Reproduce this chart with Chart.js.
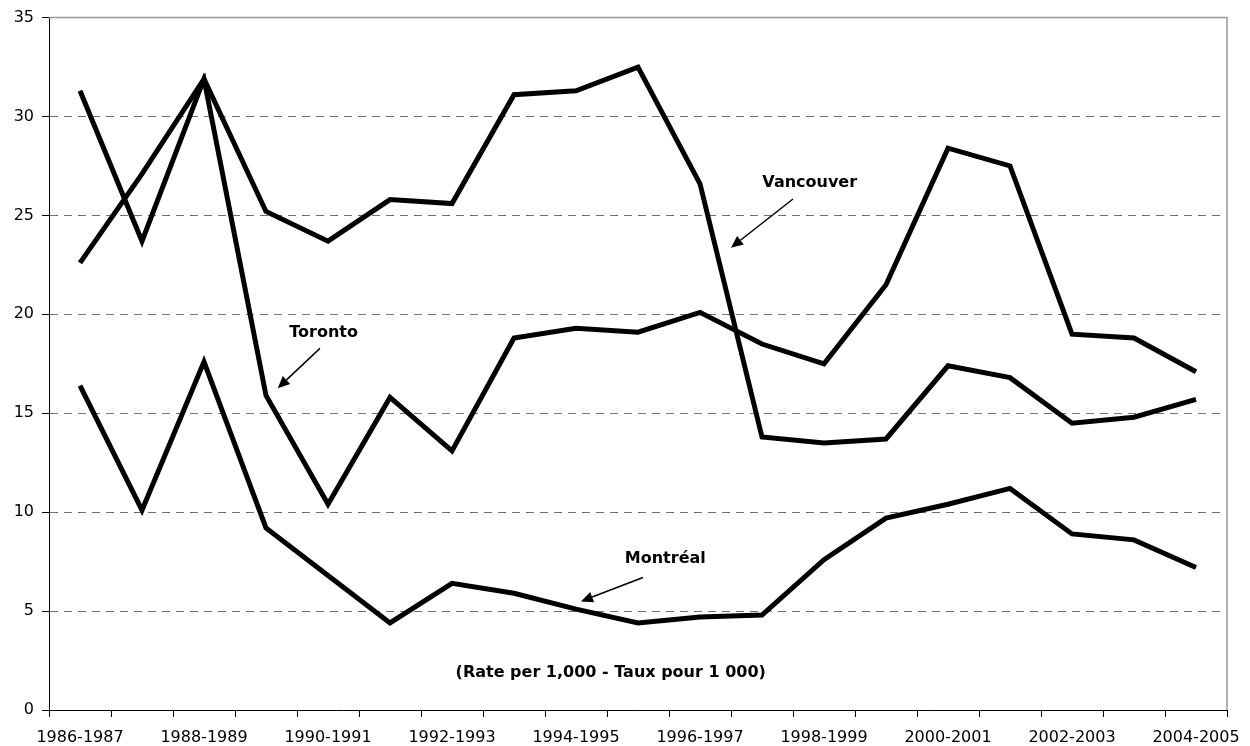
<!DOCTYPE html>
<html>
<head>
<meta charset="utf-8">
<script src="https://cdn.jsdelivr.net/npm/chart.js@4"></script>
<style>
    html, body { margin: 0; padding: 0; background: #fff; }
    #wrap { width: 1250px; height: 746px; }
</style>
</head>
<body>
<div id="wrap"><canvas id="rateChart"></canvas></div>
<script>
// years shown on the x axis (every other one gets a label)
const years = ['1986-1987', '1987-1988', '1988-1989', '1989-1990', '1990-1991', '1991-1992',
    '1992-1993', '1993-1994', '1994-1995', '1995-1996', '1996-1997', '1997-1998', '1998-1999',
    '1999-2000', '2000-2001', '2001-2002', '2002-2003', '2003-2004', '2004-2005'];

const vancouver = [31.3, 23.7, 31.9, 25.2, 23.7, 25.8, 25.6, 31.1, 31.3, 32.5, 26.6, 13.8, 13.5, 13.7, 17.4, 16.8, 14.5, 14.8, 15.7];
const toronto   = [22.6, 27.1, 31.9, 15.9, 10.4, 15.8, 13.1, 18.8, 19.3, 19.1, 20.1, 18.5, 17.5, 21.5, 28.4, 27.5, 19.0, 18.8, 17.1];
const montreal  = [16.4, 10.1, 17.6, 9.2, 6.8, 4.4, 6.4, 5.9, 5.1, 4.4, 4.7, 4.8, 7.6, 9.7, 10.4, 11.2, 8.9, 8.6, 7.2];

const yTicks = [0, 5, 10, 15, 20, 25, 30, 35];

// labels + arrows, placed in data space (category index, value)
const callouts = [
    { text: 'Vancouver', at: [11.77, 26.64], from: [11.5, 25.83], to: [10.5, 23.37] },
    { text: 'Toronto', at: [3.93, 19.09], from: [3.87, 18.28], to: [3.19, 16.27] },
    { text: 'Montréal', at: [9.44, 7.65], from: [9.08, 6.70], to: [8.08, 5.49] }
];
const caption = { text: '(Rate per 1,000 - Taux pour 1 000)', at: [8.56, 1.86] };

Chart.defaults.font.family = "'DejaVu Sans', sans-serif";
Chart.defaults.font.size = 16;
Chart.defaults.color = '#000';

function drawArrow(ctx, x1, y1, x2, y2) {
    const ang = Math.atan2(y2 - y1, x2 - x1);
    const len = 12, half = 5.5;
    const bx = x2 - len * Math.cos(ang), by = y2 - len * Math.sin(ang);
    ctx.beginPath();
    ctx.moveTo(x1, y1);
    ctx.lineTo(bx, by);
    ctx.lineWidth = 1.5;
    ctx.strokeStyle = '#000';
    ctx.stroke();
    ctx.beginPath();
    ctx.moveTo(x2, y2);
    ctx.lineTo(bx + half * Math.sin(ang), by - half * Math.cos(ang));
    ctx.lineTo(bx - half * Math.sin(ang), by + half * Math.cos(ang));
    ctx.closePath();
    ctx.fillStyle = '#000';
    ctx.fill();
}

const framePlugin = {
    id: 'frame',
    beforeDatasetsDraw(chart) {
        const { ctx, chartArea: a } = chart;
        ctx.save();
        ctx.strokeStyle = '#999';
        ctx.lineWidth = 1.5;
        ctx.beginPath();
        ctx.moveTo(a.left, a.top);
        ctx.lineTo(a.right, a.top);
        ctx.lineTo(a.right, a.bottom);
        ctx.stroke();
        ctx.restore();
    },
    afterDatasetsDraw(chart) {
        const { ctx, scales: { x, y } } = chart;
        const px = p => [x.getPixelForValue(p[0]), y.getPixelForValue(p[1])];
        ctx.save();
        ctx.font = "bold 16px 'DejaVu Sans', sans-serif";
        ctx.textAlign = 'center';
        ctx.textBaseline = 'middle';
        ctx.fillStyle = '#000';
        callouts.forEach(c => {
            const [tx, ty] = px(c.at);
            ctx.fillText(c.text, tx, ty);
            const [x1, y1] = px(c.from);
            const [x2, y2] = px(c.to);
            drawArrow(ctx, x1, y1, x2, y2);
        });
        const [cx, cy] = px(caption.at);
        ctx.fillText(caption.text, cx, cy);
        ctx.restore();
    }
};

const lineStyle = { borderColor: '#000', borderWidth: 5, pointRadius: 0, tension: 0, fill: false };

new Chart(document.getElementById('rateChart').getContext('2d'), {
    type: 'line',
    data: {
        labels: years,
        datasets: [
            { label: 'Vancouver', data: vancouver, ...lineStyle },
            { label: 'Toronto', data: toronto, ...lineStyle },
            { label: 'Montréal', data: montreal, ...lineStyle }
        ]
    },
    options: {
        responsive: true,
        maintainAspectRatio: false,
        animation: false,
        layout: { padding: { top: 15, right: 23, left: 0, bottom: 0 } },
        plugins: {
            legend: { display: false },
            tooltip: { enabled: false }
        },
        scales: {
            x: {
                type: 'category',
                offset: true,
                grid: { offset: true, drawOnChartArea: false, drawTicks: true, tickLength: 7, tickColor: '#000' },
                border: { color: '#000', width: 1 },
                ticks: {
                    autoSkip: false,
                    maxRotation: 0,
                    minRotation: 0,
                    padding: 11,
                    callback: (v, i) => (i % 2 === 0 ? years[i] : '')
                },
                afterFit: s => { s.height = 36; s.paddingLeft = 0; s.paddingRight = 0; }
            },
            y: {
                min: yTicks[0],
                max: yTicks[yTicks.length - 1],
                afterBuildTicks: s => { s.ticks = yTicks.map(v => ({ value: v })); },
                grid: {
                    color: c => (c.tick && (c.tick.value === 0 || c.tick.value === 35) ? 'rgba(0,0,0,0)' : '#707070'),
                    lineWidth: 1,
                    drawTicks: true,
                    tickLength: 7,
                    tickColor: '#000'
                },
                border: { color: '#000', width: 1, dash: [8, 6] },
                ticks: { padding: 8 },
                afterFit: s => { s.width = 49; }
            }
        }
    },
    plugins: [framePlugin]
});
</script>
</body>
</html>
